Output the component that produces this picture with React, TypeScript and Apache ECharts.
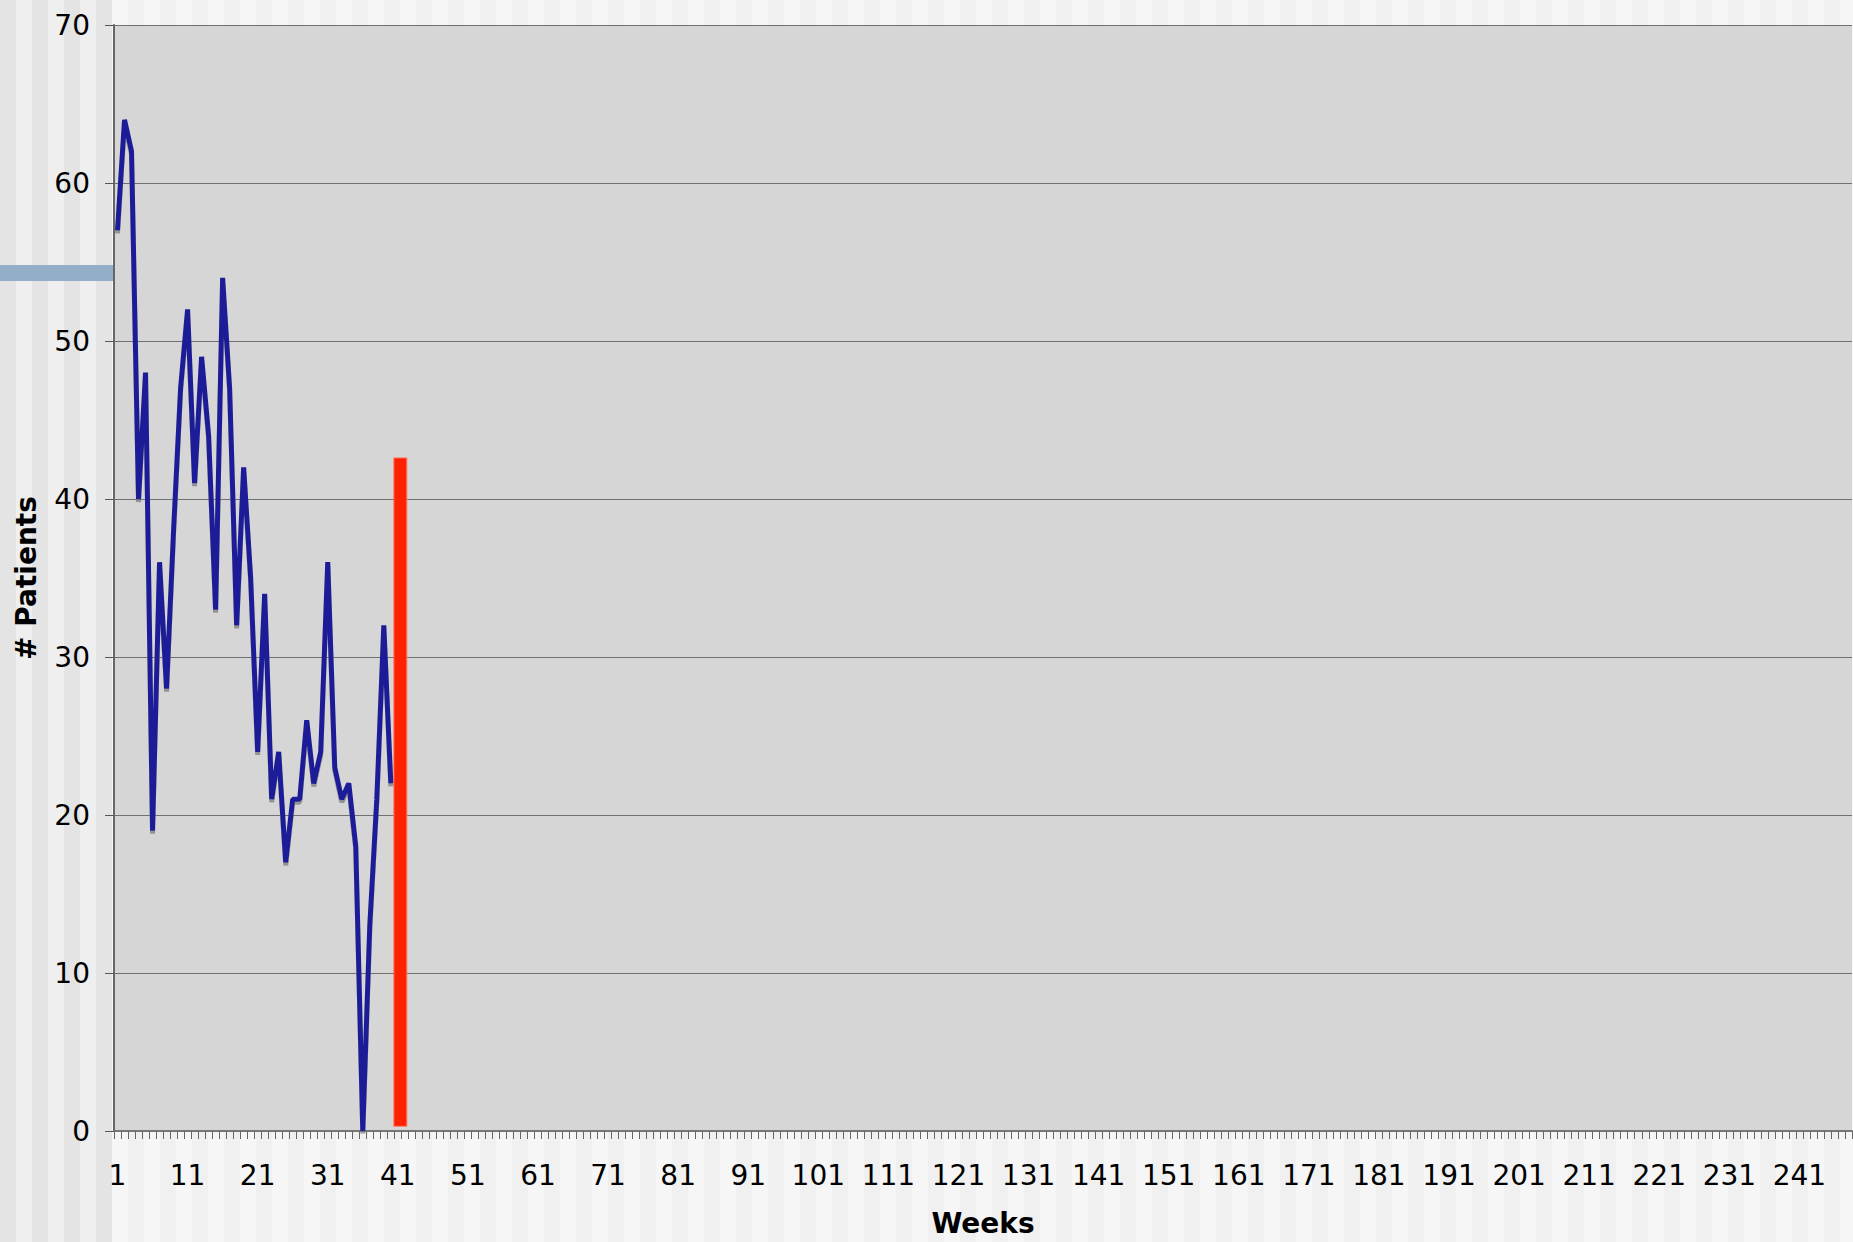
import React, { useEffect, useRef } from "react";
import * as echarts from "echarts";

// ---- data ----
const WEEK_COUNT = 248;
const weeks: string[] = Array.from({ length: WEEK_COUNT }, (_, i) => String(i + 1));
const patients: number[] = [
  57, 64, 62, 40, 48, 19, 36, 28, 38, 47,
  52, 41, 49, 44, 33, 54, 47, 32, 42, 35,
  24, 34, 21, 24, 17, 21, 21, 26, 22, 24,
  36, 23, 21, 22, 18, 0, 13, 21, 32, 22,
];
// red marker bar: [week position, base, top]
const markerWeek = 41.36;
const markerBase = 0.3;
const markerTop = 42.6;

const FONT = "DejaVu Sans, Verdana, sans-serif";

export default function App() {
  const ref = useRef<HTMLDivElement>(null);

  useEffect(() => {
    document.body.style.margin = "0";
    const chart = echarts.init(ref.current!, null, { renderer: "svg" });
    chart.setOption({
      animation: false,
      backgroundColor: "transparent",
      grid: {
        left: 114,
        right: 1,
        top: 25,
        bottom: 108,
        show: true,
        backgroundColor: "#d6d6d6",
        borderWidth: 0,
      },
      graphic: [
        {
          type: "rect",
          x: 0,
          y: 265,
          shape: { width: 113, height: 16 },
          style: { fill: "#93aec8" },
          z: 1,
        },
      ],
      xAxis: [
        {
          type: "category",
          data: weeks,
          boundaryGap: true,
          name: "Weeks",
          nameLocation: "middle",
          nameGap: 78,
          nameTextStyle: { fontFamily: FONT, fontWeight: "bold", fontSize: 28, color: "#000" },
          axisLine: { show: true, lineStyle: { color: "#777", width: 2 } },
          axisTick: { show: true, interval: 0, length: 8, lineStyle: { color: "#666", width: 1 } },
          axisLabel: { interval: 9, margin: 30, fontFamily: FONT, fontSize: 28, color: "#000" },
          splitLine: { show: false },
        },
        {
          type: "value",
          min: 0.5,
          max: WEEK_COUNT + 0.5,
          show: false,
        },
      ],
      yAxis: {
        type: "value",
        min: 0,
        max: 70,
        interval: 10,
        name: "# Patients",
        nameLocation: "middle",
        nameGap: 74,
        nameTextStyle: { fontFamily: FONT, fontWeight: "bold", fontSize: 28, color: "#000" },
        axisLine: { show: true, lineStyle: { color: "#666", width: 2 } },
        axisTick: { show: true, length: 9, lineStyle: { color: "#555", width: 1 } },
        axisLabel: { margin: 24, fontFamily: FONT, fontSize: 28, color: "#000" },
        splitLine: { show: true, lineStyle: { color: "#707070", width: 1 } },
      },
      series: [
        {
          type: "line",
          data: patients,
          xAxisIndex: 0,
          showSymbol: false,
          lineStyle: {
            color: "#1a1a99",
            width: 5,
            join: "bevel",
            cap: "butt",
            shadowColor: "rgba(120,120,120,0.7)",
            shadowOffsetY: 3,
            shadowBlur: 0,
          },
          z: 3,
        },
        {
          type: "custom",
          xAxisIndex: 1,
          data: [[markerWeek, markerBase, markerTop]],
          renderItem: (params: any, api: any) => {
            const bottom = api.coord([api.value(0), api.value(1)]);
            const top = api.coord([api.value(0), api.value(2)]);
            const w = 13;
            return {
              type: "rect",
              shape: { x: top[0] - w / 2, y: top[1], width: w, height: bottom[1] - top[1] },
              style: { fill: "#ff2200", stroke: "#ff7a66", lineWidth: 1 },
            };
          },
          encode: { x: 0, y: [1, 2] },
          z: 2,
        },
      ],
    });
    return () => chart.dispose();
  }, []);

  return (
    <div
      style={{
        position: "fixed",
        left: 0,
        top: 0,
        width: 1853,
        height: 1242,
        background:
          "repeating-linear-gradient(90deg, #f0f0f0 0px, #f0f0f0 16px, #f6f6f6 16px, #f6f6f6 32px)",
      }}
    >
      <div
        style={{
          position: "absolute",
          left: 0,
          top: 0,
          width: 112,
          height: 1242,
          background:
            "repeating-linear-gradient(90deg, #e4e4e4 0px, #e4e4e4 16px, #efefef 16px, #efefef 32px)",
        }}
      />
      <div ref={ref} style={{ position: "absolute", left: 0, top: 0, width: 1853, height: 1242 }} />
    </div>
  );
}
